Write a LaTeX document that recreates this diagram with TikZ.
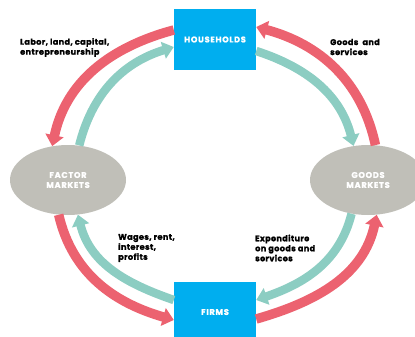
\documentclass[tikz,border=0pt]{standalone}
\usepackage{fontspec}
\setmainfont{Poppins}[BoldFeatures={FakeBold=1.2}]
\usetikzlibrary{shapes.geometric,arrows.meta}
\definecolor{flowred}{RGB}{236,98,112}
\definecolor{flowteal}{RGB}{140,205,194}
\definecolor{boxblue}{RGB}{0,174,239}
\definecolor{mktgray}{RGB}{192,191,184}
\begin{document}
\begin{tikzpicture}[x=1pt,y=-1pt,
  sector/.style={rectangle, fill=boxblue, minimum width=82pt, minimum height=61pt,
    inner sep=0pt, text=white, font=\bfseries\fontsize{8.3}{10}\selectfont\addfontfeatures{LetterSpace=8}},
  market/.style={ellipse, fill=mktgray, minimum width=116pt, minimum height=70pt,
    inner sep=0pt, text=white, align=center, font=\bfseries\fontsize{8.3}{10}\selectfont\addfontfeatures{LetterSpace=8}},
  flowlabel/.style={anchor=west, inner sep=0pt, align=left,
    font=\bfseries\fontsize{8.2}{10}\selectfont\addfontfeatures{LetterSpace=4}},
  realflow/.style={draw=flowred, line width=9.5pt, -{Triangle[width=18pt,length=11pt]}},
  moneyflow/.style={draw=flowteal, line width=8.5pt, -{Triangle[width=17pt,length=11pt]}}]
\useasboundingbox (0,0) rectangle (415,337);

% sectors and markets
\node[sector] (hh) at (215,39.5) {HOUSEHOLDS};
\node[sector] (fi) at (215,312) {FIRMS};
\node[market] (fm) at (68,180) {FACTOR\\MARKETS};
\node[market] (gm) at (368,180) {GOODS\\MARKETS};

% flows of resources, goods and services
\draw[realflow] ([yshift=9.5pt]hh.west) to[out=195,in=78] (fm.115.5);
\draw[realflow] (fm.255.4) to[out=283,in=164] ([yshift=-8pt]fi.west);
\draw[realflow] ([yshift=-7pt]fi.east) to[out=16,in=258] (gm.284.6);
\draw[realflow] (gm.78.7) to[out=102,in=345] ([yshift=12.5pt]hh.east);

% flows of money
\draw[moneyflow] (fm.72.3) to[out=76,in=197] ([yshift=-7.5pt]hh.west);
\draw[moneyflow] ([yshift=-11.5pt]hh.east) to[out=342,in=104] (gm.113.9);
\draw[moneyflow] (gm.244.5) to[out=256,in=19] ([yshift=12pt]fi.east);
\draw[moneyflow] ([yshift=12pt]fi.west) to[out=161,in=284] (fm.286.2);

% flow labels
\node[flowlabel] (l1) at (20,47.5) {Labor, land, capital,\\entrepreneurship};
\node[flowlabel] (l2) at (330,47) {Goods\ \ and\\services};
\node[flowlabel] (l3) at (118,248) {Wages, rent,\\interest,\\profits};
\node[flowlabel] (l4) at (255,248) {Expenditure\\on goods and\\services};
\end{tikzpicture}
\end{document}
